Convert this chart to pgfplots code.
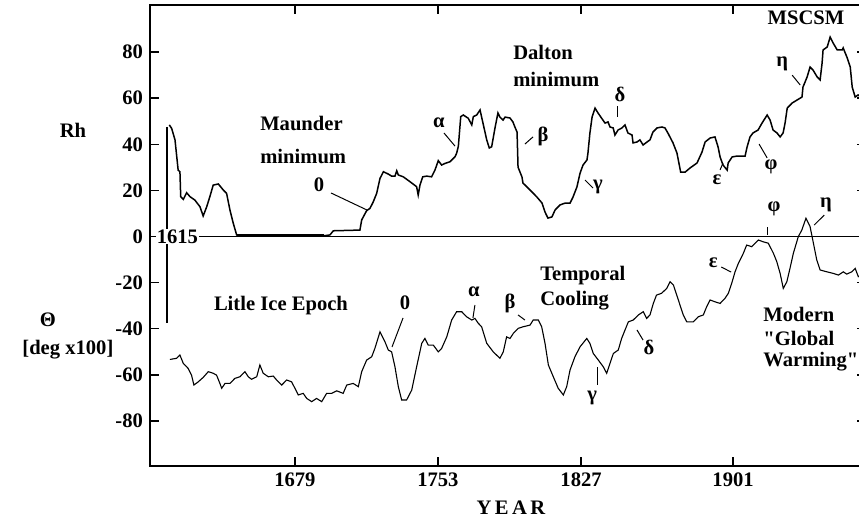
\documentclass[border=0pt]{standalone}
\usepackage{fontspec}
\setmainfont{Liberation Serif}
\usepackage{pgfplots}
\pgfplotsset{compat=1.18}
\newcommand\f{\fontsize{10.3}{12}\selectfont\bfseries}
\newcommand\dq{\XeTeXglyph\XeTeXcharglyph"0022\relax}
\begin{document}
\begin{tikzpicture}[font=\f]
\begin{axis}[name=ax, scale only axis, width=358pt, height=230.5pt,
  xmin=1606.4, xmax=1970, ymin=-99.5, ymax=100.4,
  axis line style={line width=0.9pt},
  tick align=inside, major tick length=4.5pt,
  tick style={line width=0.7pt, black},
  xtick={1680,1752.6,1825.3,1902.5},
  xticklabels={1679,1753,1827,1901},
  ytick={-80,-60,-40,-20,0,20,40,60,80},
  yticklabels={-80,-60,-40,-20,0,20,40,60,80},
  xticklabel style={font=\f},
  yticklabel style={font=\f},
  clip=false]
% zero line
\addplot[black, line width=0.8pt] coordinates {(1606.4,0) (1970,0)};
% upper curve: Rh (flat Maunder part drawn heavier)
\addplot[black, line width=1.3pt] coordinates {(1650.4,0.5) (1695,0.5)};
\addplot[black, line width=0.75pt, sharp plot] table {
1616.2 48.4
1617.4 46.9
1619.1 41.9
1620.7 28.8
1621.6 28.1
1622.0 17.3
1623.3 16.1
1625.0 19.0
1626.7 17.3
1629.2 15.8
1631.8 12.9
1633.4 8.9
1635.2 12.9
1636.8 17.3
1638.5 22.3
1641.1 22.8
1643.6 20.2
1645.3 18.7
1647.0 11.5
1648.7 5.7
1650.4 0.7
1652.1 0.2
1693.6 0.2
1697.8 0.7
1699.5 2.5
1713.0 2.8
1713.9 7.2
1716.4 11.2
1718.1 12.2
1719.8 15.1
1721.5 18.7
1723.2 25.2
1724.9 28.1
1727.4 27.1
1729.1 26.2
1730.8 26.2
1731.7 28.5
1732.5 26.7
1735.0 25.9
1738.4 23.8
1741.8 21.6
1742.6 18.0
1743.5 22.3
1744.9 25.9
1746.9 26.2
1749.4 25.9
1751.1 28.8
1752.8 32.9
1754.5 31.0
1756.2 31.7
1758.7 32.4
1761.3 34.6
1762.1 36.1
1763.0 39.2
1764.2 52.0
1765.5 52.7
1768.0 51.3
1769.8 48.4
1770.6 52.0
1772.3 52.7
1774.0 54.9
1775.7 48.4
1777.4 41.9
1778.7 38.4
1779.9 38.9
1781.6 47.1
1783.1 53.6
1784.1 51.8
1785.7 50.5
1786.7 51.8
1789.2 51.4
1790.7 49.7
1791.7 47.5
1792.8 45.3
1793.3 30.1
1795.3 25.8
1795.8 23.2
1798.4 21.0
1800.9 18.9
1802.9 17.1
1805.5 14.5
1807.0 10.6
1808.5 8.0
1810.5 8.5
1812.1 11.5
1814.6 13.7
1817.2 14.5
1819.7 14.5
1821.2 17.1
1823.2 21.5
1824.8 27.5
1826.3 31.0
1828.3 33.2
1828.8 36.2
1829.8 44.9
1830.9 51.8
1832.4 55.7
1833.9 53.6
1836.4 50.5
1837.5 49.2
1839.0 49.7
1840.0 47.5
1841.6 47.1
1842.5 44.0
1844.1 46.2
1846.1 47.1
1847.6 48.4
1849.1 44.9
1851.2 44.0
1851.7 40.6
1853.7 41.0
1855.2 41.9
1856.8 39.7
1858.8 41.0
1860.3 41.9
1861.8 45.3
1863.9 47.1
1866.4 47.5
1867.9 47.1
1869.4 44.9
1872.0 40.6
1874.0 36.2
1875.9 27.9
1878.1 27.9
1880.6 29.7
1884.2 31.9
1886.7 36.6
1888.3 41.0
1890.8 42.7
1893.3 43.2
1894.9 38.8
1895.9 34.5
1897.4 31.0
1899.5 28.8
1900.0 31.9
1902.0 34.5
1904.5 34.9
1908.6 34.9
1909.6 38.8
1911.1 43.2
1912.6 44.9
1915.2 46.2
1917.2 49.2
1919.8 52.7
1921.3 50.5
1922.8 46.2
1924.8 44.9
1926.4 43.2
1927.9 44.9
1928.9 49.2
1930.0 55.7
1932.5 57.9
1935.0 59.2
1937.5 60.5
1938.0 64.8
1940.1 69.2
1941.6 73.5
1943.1 72.2
1945.2 69.2
1946.7 67.9
1947.7 75.2
1948.2 80.9
1950.3 82.2
1951.8 86.5
1953.3 83.9
1955.4 80.9
1957.9 80.9
1958.4 81.8
1960.5 77.4
1962.0 73.5
1963.0 64.8
1964.5 60.5
1966.0 61.4
1968.0 60.0
};
% lower curve: Theta
\addplot[black, line width=0.55pt, sharp plot] table {
1616.5 -53.3
1619.9 -52.8
1621.6 -51.4
1623.3 -55.0
1625.8 -57.2
1627.5 -60.1
1628.7 -64.4
1630.9 -63.0
1633.4 -61.1
1636.0 -58.6
1638.5 -59.3
1640.2 -60.1
1641.9 -63.7
1642.8 -65.8
1644.5 -63.7
1647.0 -63.7
1649.5 -61.5
1652.1 -60.8
1654.6 -58.6
1656.3 -60.8
1658.0 -61.9
1660.6 -60.8
1662.2 -55.7
1663.9 -59.3
1666.5 -60.8
1669.0 -60.5
1670.7 -62.2
1673.3 -64.4
1675.8 -62.2
1678.3 -63.0
1680.0 -65.8
1681.7 -68.7
1684.2 -68.0
1686.0 -70.2
1688.5 -71.6
1691.0 -70.2
1693.6 -71.6
1696.1 -68.0
1698.7 -68.0
1701.2 -66.9
1704.5 -68.0
1706.3 -64.4
1709.6 -63.7
1712.2 -65.1
1713.9 -58.6
1716.4 -53.6
1719.0 -52.1
1720.6 -48.5
1723.2 -41.3
1725.7 -45.6
1727.4 -49.2
1729.1 -50.0
1730.8 -56.5
1732.5 -65.1
1734.2 -70.9
1736.7 -70.9
1739.3 -66.6
1741.8 -56.5
1744.4 -46.3
1746.0 -44.2
1747.7 -47.1
1750.3 -47.1
1752.8 -50.0
1754.5 -48.5
1757.1 -43.5
1759.6 -36.2
1762.1 -32.6
1764.7 -32.6
1767.2 -34.8
1769.8 -36.2
1771.4 -35.5
1773.1 -37.6
1774.8 -39.1
1777.4 -46.3
1780.7 -50.0
1784.1 -52.8
1785.8 -50.0
1787.5 -43.5
1789.2 -44.2
1790.9 -42.0
1793.4 -39.8
1796.0 -39.1
1799.4 -38.4
1801.0 -36.2
1803.6 -36.2
1805.3 -39.1
1807.0 -46.3
1808.7 -55.7
1811.2 -60.8
1813.7 -65.8
1816.3 -68.7
1818.0 -65.1
1819.7 -57.9
1822.2 -52.1
1824.8 -47.8
1828.2 -44.2
1829.8 -46.3
1831.5 -50.7
1834.1 -53.6
1836.6 -56.5
1838.3 -59.3
1840.0 -55.0
1841.7 -50.7
1844.2 -49.2
1845.9 -44.2
1847.6 -40.6
1849.3 -37.0
1851.8 -36.2
1854.4 -34.0
1856.9 -32.6
1858.6 -35.5
1860.3 -34.0
1862.0 -29.0
1863.6 -25.4
1866.2 -24.6
1868.8 -22.5
1870.5 -19.6
1872.2 -21.0
1874.7 -27.5
1877.2 -34.0
1879.0 -37.0
1882.3 -37.0
1884.8 -34.8
1887.4 -34.0
1889.1 -30.4
1890.8 -27.5
1893.3 -28.3
1895.9 -29.0
1898.4 -26.8
1900.1 -24.6
1901.8 -20.3
1903.5 -15.3
1905.2 -11.6
1907.7 -7.3
1909.4 -3.7
1912.0 -4.4
1913.7 -2.9
1915.3 -1.5
1917.9 -2.3
1920.4 -2.9
1923.0 -7.3
1924.7 -10.9
1926.4 -16.0
1928.0 -22.5
1929.8 -19.6
1931.4 -13.8
1933.1 -7.3
1935.6 -0.1
1937.4 2.8
1939.5 7.9
1941.6 4.3
1943.3 -2.9
1945.0 -10.2
1946.7 -14.5
1950.1 -15.3
1953.4 -16.0
1956.0 -16.7
1958.5 -15.3
1960.2 -16.3
1962.8 -15.3
1964.5 -13.8
1966.1 -17.4
1968.0 -16.5
};
% 1615 marker
\draw[line width=0.7pt] (axis cs:1615,47.5) -- (axis cs:1615,-37.5);
\node[fill=white, inner sep=0.5pt] at (axis cs:1620.3,0) {1615};
% annotations, upper
\node[anchor=west, inner sep=0] at (axis cs:1662.2,49.2) {Maunder};
\node[anchor=west, inner sep=0] at (axis cs:1662.2,34.9) {minimum};
\node at (axis cs:1692.2,22.3) {0};
\draw[line width=0.5pt] (axis cs:1698.3,18.9) -- (axis cs:1716.6,11.5);
\node at (axis cs:1753.1,49.2) {α};
\draw[line width=0.5pt] (axis cs:1755.7,44.9) -- (axis cs:1761.3,39.2);
\node[anchor=west, inner sep=0] at (axis cs:1790.7,80.0) {Dalton};
\node[anchor=west, inner sep=0] at (axis cs:1790.7,68.3) {minimum};
\node at (axis cs:1806.0,43.6) {β};
\draw[line width=0.5pt] (axis cs:1796.8,40.1) -- (axis cs:1800.9,43.2);
\node at (axis cs:1833.9,21.5) {γ};
\draw[line width=0.5pt] (axis cs:1827.3,24.5) -- (axis cs:1831.4,21.0);
\node at (axis cs:1845.1,61.8) {δ};
\draw[line width=0.5pt] (axis cs:1843.6,56.6) -- (axis cs:1843.6,51.8);
\node at (axis cs:1894.3,24.5) {ε};
\draw[line width=0.5pt] (axis cs:1895.9,28.9) -- (axis cs:1897.4,31.9);
\node at (axis cs:1921.8,30.1) {φ};
\draw[line width=0.5pt] (axis cs:1915.7,40.1) -- (axis cs:1919.8,34.1);
\node at (axis cs:1927.4,74.8) {η};
\draw[line width=0.5pt] (axis cs:1932.5,70.0) -- (axis cs:1936.6,65.7);
\node at (axis cs:1939.5,94.8) {MSCSM};
% annotations, lower
\node at (axis cs:1923.3,11.9) {φ};
\draw[line width=0.5pt] (axis cs:1920.2,4.1) -- (axis cs:1920.2,0.7);
\node at (axis cs:1949.7,13.7) {η};
\draw[line width=0.5pt] (axis cs:1943.7,5.0) -- (axis cs:1948.8,9.3);
\node at (axis cs:1892.4,-11.5) {ε};
\draw[line width=0.5pt] (axis cs:1896.5,-13.2) -- (axis cs:1901.5,-15.4);
\node[anchor=west, inner sep=0] at (axis cs:1804.4,-17.1) {Temporal};
\node[anchor=west, inner sep=0] at (axis cs:1804.4,-28.0) {Cooling};
\node at (axis cs:1789.2,-28.8) {β};
\draw[line width=0.5pt] (axis cs:1793.3,-34.0) -- (axis cs:1796.8,-36.2);
\node at (axis cs:1830.9,-70.0) {γ};
\draw[line width=0.5pt] (axis cs:1833.4,-56.6) -- (axis cs:1833.4,-64.4);
\node at (axis cs:1859.8,-47.9) {δ};
\draw[line width=0.5pt] (axis cs:1853.7,-40.5) -- (axis cs:1856.8,-44.9);
\node[anchor=west, inner sep=0] at (axis cs:1917.7,-34.0) {Modern};
\node[anchor=west, inner sep=0] at (axis cs:1917.7,-44.0) {\dq Global};
\node[anchor=west, inner sep=0] at (axis cs:1917.7,-54.4) {Warming\dq};
\node at (axis cs:1672.9,-30.1) {Litle Ice Epoch};
\node at (axis cs:1735.9,-28.8) {0};
\draw[line width=0.5pt] (axis cs:1734.9,-35.3) -- (axis cs:1729.3,-47.9);
\node at (axis cs:1770.9,-24.1) {α};
\draw[line width=0.5pt] (axis cs:1771.4,-29.7) -- (axis cs:1770.4,-35.3);
% axis titles
\node at (axis cs:1567.3,46.2) {Rh};
\node at (axis cs:1554.6,-36.2) {Θ};
\node at (axis cs:1564.7,-49.2) {[deg x100]};
\node at (axis cs:1789.7,-117.7) {Y\,E\,A\,R};
\end{axis}
\pgfresetboundingbox
\path[use as bounding box] ([xshift=-75pt,yshift=-27.5pt]ax.south west) rectangle ([xshift=-3.5pt,yshift=2.5pt]ax.north east);
\end{tikzpicture}
\end{document}
